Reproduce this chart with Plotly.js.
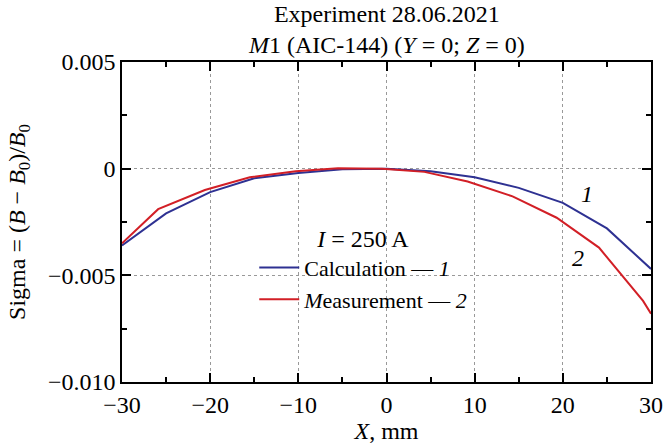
<!DOCTYPE html>
<html><head><meta charset="utf-8">
<script src="https://cdn.plot.ly/plotly-3.0.1.min.js"></script>
<style>html,body{margin:0;padding:0;background:#fff}#chart{width:665px;height:444px}</style>
</head><body><div id="chart"></div>
<script>
const calcX = [-30, -25, -20, -15, -10, -5, 0, 5, 10, 15, 20, 25, 30];
const calcY = [-0.0036, -0.0021, -0.0011, -0.00045, -0.0002, -0.00003, 0, -0.00012, -0.0004, -0.0009, -0.0016, -0.0028, -0.0047];
const measX = [-30, -25.9, -20.6, -15.5, -10.3, -5.5, -0.5, 4.3, 9.2, 14.3, 19.3, 24.1, 29.1, 30];
const measY = [-0.0035, -0.0019, -0.001, -0.0004, -0.00012, 0.00002, 0, -0.00015, -0.0006, -0.0013, -0.0023, -0.0037, -0.0062, -0.0068];
const yTickVals = [0.005, 0, -0.005, -0.01];
const yTickText = ['0.005', '0', '\u22120.005', '\u22120.010'];
const seriesNames = ['Calculation \u2014 <i>1</i>', '<i>M</i>easurement \u2014 <i>2</i>'];
const curveLabels = ['<i>1</i>', '<i>2</i>'];
const curveLabelX = [22.7, 21.7];
const curveLabelY = [-0.0012, -0.0042];
const titleText = 'Experiment 28.06.2021<br><i>M</i>1 (AIC-144) (<i>Y</i> = 0; <i>Z</i> = 0)';

const font = 'Liberation Serif, Times New Roman, serif';
const FS = 24;
const traces = [
  {x: calcX, y: calcY, mode: 'lines', name: seriesNames[0], line: {color: '#2e3192', width: 2}},
  {x: measX, y: measY, mode: 'lines', name: seriesNames[1], line: {color: '#d21f26', width: 2}}
];
const axisCommon = {
  showline: true, linecolor: '#000', linewidth: 1.5, mirror: 'ticks',
  ticks: 'inside', ticklen: 9, tickwidth: 1.5, tickcolor: '#000',
  showgrid: true, gridcolor: '#999', griddash: 'dot', gridwidth: 1,
  zeroline: false, tickfont: {family: font, size: FS, color: '#000'}
};
const annotations = curveLabels.map((t, i) => ({
  x: curveLabelX[i], y: curveLabelY[i], xref: 'x', yref: 'y', text: t, showarrow: false,
  font: {family: font, size: FS, color: '#000'}
}));
annotations.push({
  x: 0.5, y: 1, xref: 'paper', yref: 'paper', xanchor: 'center', yanchor: 'bottom', yshift: 2,
  text: titleText, showarrow: false, align: 'center',
  font: {family: font, size: FS, color: '#000'}
});
const layout = {
  width: 665, height: 444,
  margin: {l: 122, r: 14, t: 62, b: 62},
  paper_bgcolor: '#fff', plot_bgcolor: '#fff',
  font: {family: font, color: '#000'},
  xaxis: Object.assign({}, axisCommon, {
    range: [-30, 30], tickmode: 'linear', tick0: -30, dtick: 10, ticklabelstandoff: 0,
    minor: {ticks: 'inside', dtick: 5, tick0: -30, ticklen: 5, tickcolor: '#000', showgrid: false},
    title: {text: '<i>X</i>, mm', font: {family: font, size: FS, color: '#000'}, standoff: 0}
  }),
  yaxis: Object.assign({}, axisCommon, {
    range: [-0.01, 0.005], tickmode: 'array', tickvals: yTickVals, ticktext: yTickText,
    minor: {ticks: 'inside', dtick: 0.0025, tick0: 0, ticklen: 5, tickcolor: '#000', showgrid: false},
    title: {text: 'Sigma = (<i>B</i> \u2212 <i>B</i><sub>0</sub>)/<i>B</i><sub>0</sub>', font: {family: font, size: FS, color: '#000'}, standoff: 16}
  }),
  legend: {
    x: 0.25, y: 0.52, xanchor: 'left', yanchor: 'top', bgcolor: 'rgba(0,0,0,0)',
    font: {family: font, size: 22, color: '#000'},
    title: {text: '<i>I</i> = 250 A', side: 'top center', font: {family: font, size: FS, color: '#000'}},
    tracegroupgap: 0, itemwidth: 40
  },
  annotations: annotations
};
Plotly.newPlot('chart', traces, layout, {displayModeBar: false});
</script></body></html>
